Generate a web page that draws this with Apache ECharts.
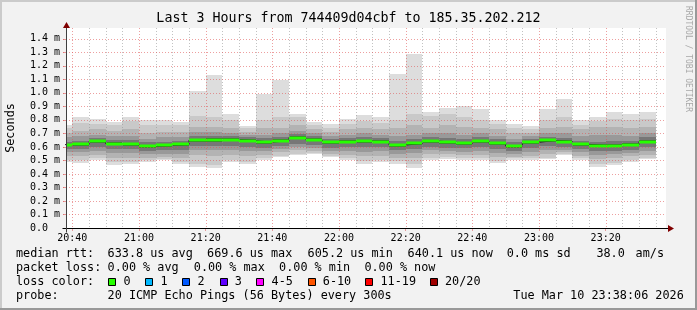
<!DOCTYPE html>
<html><head><meta charset="utf-8">
<script src="https://cdn.jsdelivr.net/npm/echarts@6/dist/echarts.min.js"></script>
<style>html,body{margin:0;padding:0;background:#f2f2f2}#c{width:697px;height:310px}</style>
</head><body><div id="c"></div>
<script>
// ---------------- data ----------------
const titleText = "Last 3 Hours from 744409d04cbf to 185.35.202.212";
const binEnds = ["20:40","20:45","20:50","20:55","21:00","21:05","21:10","21:15","21:20","21:25","21:30","21:35",
  "21:40","21:45","21:50","21:55","22:00","22:05","22:10","22:15","22:20","22:25","22:30","22:35",
  "22:40","22:45","22:50","22:55","23:00","23:05","23:10","23:15","23:20","23:25","23:30","23:35"];
const median = [0.617,0.618,0.641,0.624,0.622,0.607,0.612,0.618,0.651,0.653,0.653,0.646,0.635,0.646,0.669,0.653,0.634,0.639,0.641,0.639,0.614,0.626,0.643,0.634,0.626,0.643,0.626,0.606,0.634,0.648,0.639,0.619,0.609,0.609,0.617,0.640];
const ping20 = [0.759,0.825,0.803,0.788,0.825,0.796,0.796,0.788,1.017,1.135,0.840,0.752,0.990,1.092,0.847,0.781,0.766,0.803,0.833,0.818,1.143,1.285,0.862,0.887,0.906,0.884,0.802,0.766,0.752,0.884,0.951,0.796,0.820,0.856,0.840,0.856];
const ping19 = [0.74,0.78,0.77,0.76,0.79,0.76,0.76,0.76,0.83,0.82,0.80,0.74,0.80,0.82,0.82,0.76,0.74,0.77,0.79,0.78,0.80,0.84,0.83,0.84,0.82,0.80,0.77,0.74,0.73,0.80,0.82,0.76,0.79,0.81,0.80,0.81];
const ping17 = [0.70,0.72,0.73,0.72,0.73,0.70,0.71,0.71,0.75,0.75,0.74,0.71,0.74,0.74,0.76,0.73,0.71,0.73,0.74,0.73,0.74,0.76,0.74,0.76,0.75,0.74,0.73,0.70,0.70,0.74,0.75,0.73,0.75,0.75,0.74,0.75];
const ping15 = [0.67,0.68,0.69,0.68,0.68,0.66,0.67,0.67,0.71,0.71,0.70,0.69,0.69,0.70,0.72,0.70,0.68,0.69,0.70,0.69,0.68,0.69,0.70,0.70,0.69,0.70,0.68,0.66,0.68,0.70,0.70,0.68,0.69,0.69,0.68,0.70];
const ping13 = [0.640,0.645,0.665,0.650,0.650,0.635,0.640,0.645,0.680,0.680,0.680,0.670,0.665,0.675,0.695,0.680,0.660,0.665,0.670,0.665,0.645,0.655,0.670,0.665,0.655,0.670,0.655,0.635,0.660,0.675,0.665,0.645,0.640,0.645,0.645,0.670];
const ping11 = [0.625,0.627,0.650,0.634,0.632,0.617,0.622,0.628,0.662,0.664,0.663,0.656,0.645,0.656,0.678,0.663,0.645,0.649,0.651,0.649,0.624,0.636,0.653,0.644,0.636,0.653,0.636,0.617,0.644,0.658,0.649,0.629,0.619,0.619,0.627,0.651];
const ping10 = [0.605,0.607,0.630,0.612,0.610,0.595,0.600,0.606,0.638,0.640,0.641,0.634,0.623,0.634,0.656,0.641,0.622,0.627,0.629,0.627,0.602,0.614,0.631,0.622,0.614,0.631,0.614,0.595,0.622,0.636,0.627,0.607,0.597,0.597,0.605,0.629];
const ping8  = [0.585,0.585,0.600,0.585,0.585,0.570,0.575,0.580,0.605,0.605,0.610,0.600,0.595,0.610,0.625,0.615,0.595,0.600,0.600,0.600,0.575,0.585,0.600,0.595,0.590,0.600,0.585,0.570,0.595,0.605,0.600,0.585,0.570,0.570,0.580,0.600];
const ping6  = [0.56,0.56,0.57,0.555,0.555,0.545,0.55,0.55,0.575,0.575,0.58,0.57,0.57,0.585,0.60,0.59,0.57,0.57,0.565,0.57,0.55,0.555,0.575,0.57,0.565,0.57,0.555,0.545,0.565,0.575,0.58,0.56,0.54,0.545,0.555,0.57];
const ping4  = [0.53,0.53,0.54,0.52,0.52,0.52,0.525,0.52,0.54,0.53,0.54,0.535,0.54,0.56,0.575,0.57,0.545,0.54,0.53,0.535,0.52,0.52,0.545,0.545,0.54,0.54,0.525,0.525,0.535,0.545,0.56,0.535,0.51,0.515,0.53,0.54];
const ping2  = [0.505,0.50,0.515,0.49,0.49,0.50,0.51,0.49,0.47,0.465,0.505,0.49,0.515,0.535,0.55,0.555,0.535,0.515,0.495,0.505,0.495,0.475,0.52,0.525,0.515,0.515,0.495,0.515,0.515,0.52,0.545,0.515,0.47,0.48,0.50,0.52];
const ping1  = [0.490,0.484,0.501,0.464,0.472,0.489,0.501,0.472,0.450,0.442,0.489,0.472,0.501,0.526,0.540,0.550,0.526,0.501,0.477,0.489,0.477,0.445,0.506,0.513,0.501,0.504,0.481,0.506,0.501,0.508,0.538,0.501,0.452,0.464,0.489,0.508];
const xLabelTimes = ["20:40","21:00","21:20","21:40","22:00","22:20","22:40","23:00","23:20"];
const yTicks = [0,0.1,0.2,0.3,0.4,0.5,0.6,0.7,0.8,0.9,1.0,1.1,1.2,1.3,1.4];
const rttLabel = "median rtt:";
const rttStats = ["633.8 us avg","669.6 us max","605.2 us min","640.1 us now","0.0 ms sd","38.0","am/s"];
const lossLabel = "packet loss:";
const lossStats = ["0.00 % avg","0.00 % max","0.00 % min","0.00 % now"];
const lossColorLabel = "loss color:";
const lossNames = ["0","1","2","3","4-5","6-10","11-19","20/20"];
const probeLabel = "probe:";
const probeText = "20 ICMP Echo Pings (56 Bytes) every 300s";
const stampText = "Tue Mar 10 23:38:06 2026";
const watermark = "RRDTOOL / TOBI OETIKER";

// ---------------- styles / layout ----------------
const MONO = "'DejaVu Sans Mono', monospace";
const lossColors = ["#26ff00","#00b8ff","#0059ff","#5e00ff","#ff00ff","#ff5500","#ff0000","#a00000"];
const smokeLayers = [[ping1,ping20,"#dddddd"],[ping2,ping19,"#c9c9c9"],[ping4,ping17,"#b3b3b3"],
  [ping6,ping15,"#999999"],[ping8,ping13,"#777777"],[ping10,ping11,"#444444"]];
const MAJ = "rgba(222,80,80,0.55)", MINC = "rgba(143,143,143,0.55)";
const X_MIN = 38.1, X_MAX = 218.1, Y_MAX = 1.48;

const toMin = s => { const [h,m] = s.split(":").map(Number); return (h-20)*60 + m; };
const ends = binEnds.map(toMin);
const fmtT = v => { const h = 20 + Math.floor(v/60), m = v%60; return h + ":" + String(m).padStart(2,"0"); };

function clipR(r, cs) {
  return echarts.graphic.clipRectByRect(r, {x: cs.x, y: cs.y, width: cs.width, height: cs.height});
}
function bandSeries(lo, hi, color, z) {
  return {
    type: "custom", z, silent: true, animation: false, clip: true,
    encode: {x: [0,1], y: [2,3]},
    data: ends.map((e,i) => [e-5, e, lo[i], hi[i]]),
    renderItem(params, api) {
      const a = api.coord([api.value(0), api.value(3)]);
      const b = api.coord([api.value(1), api.value(2)]);
      const x0 = Math.round(a[0]), x1 = Math.round(b[0]), y0 = Math.round(a[1]), y1 = Math.round(b[1]);
      const r = clipR({x: x0, y: y0, width: x1-x0, height: Math.max(1, y1-y0)}, params.coordSys);
      return r ? {type: "rect", shape: r, style: {fill: color}} : null;
    }
  };
}
const series = smokeLayers.map((l,i) => bandSeries(l[0], l[1], l[2], 1+i));
// dark median step line
const stepData = [];
ends.forEach((e,i) => { stepData.push([e-5, median[i]]); stepData.push([e, median[i]]); });
series.push({type: "line", z: 8, data: stepData, symbol: "none", silent: true, animation: false,
  lineStyle: {color: "#202020", width: 1}});
// green median band
series.push({
  type: "custom", z: 9, silent: true, animation: false, encode: {x: [0,1], y: 2},
  data: ends.map((e,i) => [e-5, e, median[i]]),
  renderItem(params, api) {
    const a = api.coord([api.value(0), api.value(2)]);
    const b = api.coord([api.value(1), api.value(2)]);
    const x0 = Math.round(a[0]), x1 = Math.round(b[0]);
    const r = clipR({x: x0, y: Math.round(a[1]) - 1.5, width: x1-x0, height: 3}, params.coordSys);
    return r ? {type: "rect", shape: r, style: {fill: lossColors[0]}} : null;
  }
});
// grid lines on top
const vGrid = [];
for (let t = 40; t <= 215; t += 5) vGrid.push([t, 0.5]);
series.push({
  type: "custom", z: 10, silent: true, animation: false, encode: {x: 0, y: 1}, data: vGrid,
  renderItem(params, api) {
    const cs = params.coordSys; const t = api.value(0);
    const x = Math.round(api.coord([t, 0])[0]) + 0.5;
    return {type: "line", shape: {x1: x, y1: cs.y, x2: x, y2: cs.y + cs.height},
      style: {stroke: t % 20 === 0 ? MAJ : MINC, lineWidth: 1, lineDash: [1,2]}};
  }
});
series.push({
  type: "custom", z: 10, silent: true, animation: false, encode: {x: 0, y: 1},
  data: yTicks.filter(v => v > 0).map(v => [100, v]),
  renderItem(params, api) {
    const cs = params.coordSys;
    const y = Math.round(api.coord([100, api.value(1)])[1]) + 0.5;
    return {type: "line", shape: {x1: cs.x - 3, y1: y, x2: cs.x + cs.width, y2: y},
      style: {stroke: MAJ, lineWidth: 1, lineDash: [1,2]}};
  }
});

const chart = echarts.init(document.getElementById("c"), null, {renderer: "canvas"});
chart.setOption({
  backgroundColor: "#f2f2f2",
  animation: false,
  textStyle: {fontFamily: MONO},
  grid: {left: 66, right: 31, top: 28, bottom: 82, show: true, backgroundColor: "#ffffff", borderWidth: 0, containLabel: false},
  xAxis: {
    type: "value", min: X_MIN, max: X_MAX,
    axisLine: {show: false}, splitLine: {show: false},
    axisTick: {show: true, length: 3, customValues: xLabelTimes.map(toMin), lineStyle: {color: MAJ}},
    axisLabel: {customValues: xLabelTimes.map(toMin), formatter: v => fmtT(Math.round(v)),
      fontFamily: MONO, fontSize: 10, color: "#000", margin: 5}
  },
  yAxis: {
    type: "value", min: 0, max: Y_MAX,
    axisLine: {show: false}, splitLine: {show: false},
    axisTick: {show: true, length: 3, customValues: yTicks, lineStyle: {color: MAJ}},
    axisLabel: {customValues: yTicks, formatter: v => v === 0 ? "0.0  " : v.toFixed(1) + " m",
      fontFamily: MONO, fontSize: 10, color: "#000", margin: 6}
  },
  series
});

// decorations that follow the axes
const p0 = chart.convertToPixel({gridIndex: 0}, [X_MIN, 0]);
const p1 = chart.convertToPixel({gridIndex: 0}, [X_MAX, Y_MAX]);
const ax = Math.round(p0[0]) + 0.5, ay = Math.round(p0[1]) + 0.5;
const rx = Math.round(p1[0]), ty = Math.round(p1[1]);
const g = [];
g.push({type: "rect", shape: {x: 0, y: 0, width: 697, height: 2}, style: {fill: "#cbcbcb"}, z: 100});
g.push({type: "rect", shape: {x: 0, y: 0, width: 2, height: 310}, style: {fill: "#cbcbcb"}, z: 100});
g.push({type: "rect", shape: {x: 0, y: 308, width: 697, height: 2}, style: {fill: "#999999"}, z: 100});
g.push({type: "rect", shape: {x: 695, y: 0, width: 2, height: 310}, style: {fill: "#999999"}, z: 100});
// axes
g.push({type: "line", shape: {x1: ax - 4, y1: ay, x2: rx + 3, y2: ay}, style: {stroke: "#000", lineWidth: 1}, z: 50});
g.push({type: "polygon", shape: {points: [[rx + 2, ay - 3.5], [rx + 8, ay], [rx + 2, ay + 3.5]]}, style: {fill: "#800000"}, z: 50});
g.push({type: "line", shape: {x1: ax, y1: ay + 4, x2: ax, y2: ty - 1}, style: {stroke: "#404040", lineWidth: 1}, z: 50});
g.push({type: "polygon", shape: {points: [[ax - 3.5, ty], [ax, ty - 6], [ax + 3.5, ty]]}, style: {fill: "#800000"}, z: 50});
// texts
const T = (x, y, text, size, extra) => Object.assign({type: "text", x, y, z: 60,
  style: Object.assign({text, fontFamily: MONO, fontSize: size, fill: "#000", verticalAlign: "middle", align: "left"}, extra || {})});
g.push(T(348.5, 18.7, titleText, 13.3, {align: "center"}));
g.push(Object.assign(T(11, 128, "Seconds", 11.8, {align: "center"}), {rotation: Math.PI/2}));
g.push(Object.assign(T(688, 59, watermark, 8, {align: "center", fill: "#a8a8a8"}), {rotation: -Math.PI/2}));
const LF = 11.8;
const rowY = [254.3, 268.3, 282.3, 296.2];
const colX0 = 16, colX1 = 107.6;
g.push(T(colX0, rowY[0], rttLabel, LF));
[107.6, 207.1, 307.6, 407.6, 506.7, 596.4, 635.6].forEach((x,i) => g.push(T(x, rowY[0], rttStats[i], LF)));
g.push(T(colX0, rowY[1], lossLabel, LF));
[107.6, 193.8, 279.1, 364.4].forEach((x,i) => g.push(T(x, rowY[1], lossStats[i], LF)));
g.push(T(colX0, rowY[2], lossColorLabel, LF));
[108.4, 145.3, 182.2, 219.6, 256.4, 307.6, 365.3, 429.8].forEach((x,i) => {
  g.push({type: "rect", z: 60, shape: {x: Math.round(x) + 0.5, y: 278.5, width: 7, height: 7},
    style: {fill: lossColors[i], stroke: "#000", lineWidth: 1}});
  g.push(T(x + 15.2, rowY[2], lossNames[i], LF));
});
g.push(T(colX0, rowY[3], probeLabel, LF));
g.push(T(colX1, rowY[3], probeText, LF));
g.push(T(513.3, rowY[3], stampText, LF));
chart.setOption({graphic: g});
</script>
</body></html>
